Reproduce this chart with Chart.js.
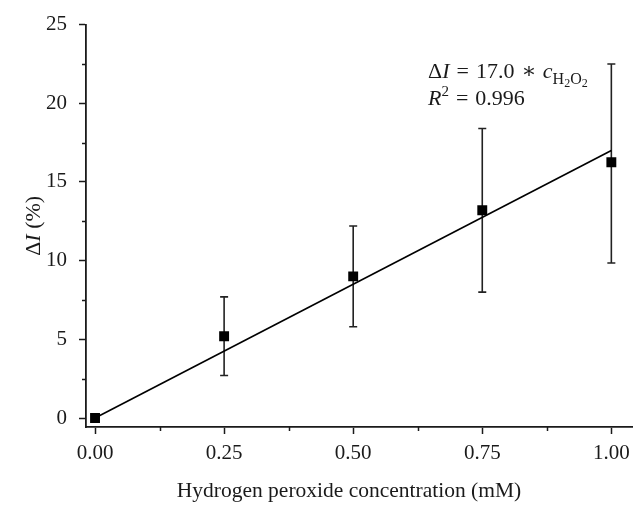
<!DOCTYPE html>
<html>
<head>
<meta charset="utf-8">
<script src="https://cdn.jsdelivr.net/npm/chart.js@4/dist/chart.umd.min.js"></script>
<style>
  html, body { margin: 0; padding: 0; background: #fff; }
  #wrap { width: 644px; height: 512px; position: relative; }
</style>
</head>
<body>
<div id="wrap"><canvas id="c" width="644" height="512"></canvas></div>
<script>
// ---- data ----
const concentrations = [0, 0.25, 0.5, 0.75, 1.0];          // mM
const deltaI = [0, 5.2, 9.0, 13.2, 16.25];                // %
const errLower = [0, 2.7, 5.8, 8.0, 9.85];                // lower end of error bar
const errUpper = [0, 7.7, 12.2, 18.4, 22.5];              // upper end of error bar
const fitX = [0, 1.0];
const fitY = [0, 17.0];
const xTicks = [0, 0.25, 0.5, 0.75, 1.0];
const xMinorTicks = [0.125, 0.375, 0.625, 0.875];
const yTicks = [0, 5, 10, 15, 20, 25];
const yMinorTicks = [2.5, 7.5, 12.5, 17.5, 22.5];
const xTitle = 'Hydrogen peroxide concentration (mM)';
const eqSlope = '17.0';
const eqR2 = '0.996';

const SERIF = '"Liberation Serif", "DejaVu Serif", serif';
const INK = '#1a1a1a';

const extrasPlugin = {
  id: 'extras',
  beforeDatasetsDraw(chart) {
    const ctx = chart.ctx, xs = chart.scales.x, ys = chart.scales.y;
    ctx.save();
    ctx.strokeStyle = '#222';
    ctx.lineWidth = 1.6;
    for (let i = 0; i < concentrations.length; i++) {
      if (errUpper[i] === errLower[i]) continue;
      const px = xs.getPixelForValue(concentrations[i]);
      const pt = ys.getPixelForValue(errUpper[i]);
      const pb = ys.getPixelForValue(errLower[i]);
      ctx.beginPath();
      ctx.moveTo(px, pt); ctx.lineTo(px, pb);
      ctx.moveTo(px - 4, pt); ctx.lineTo(px + 4, pt);
      ctx.moveTo(px - 4, pb); ctx.lineTo(px + 4, pb);
      ctx.stroke();
    }
    ctx.restore();
  },
  afterDraw(chart) {
    const ctx = chart.ctx, xs = chart.scales.x, ys = chart.scales.y;
    const area = chart.chartArea;
    ctx.save();
    // minor ticks
    ctx.strokeStyle = INK;
    ctx.lineWidth = 1.5;
    ctx.beginPath();
    yMinorTicks.forEach(v => {
      const p = Math.round(ys.getPixelForValue(v)) + 0.5;
      ctx.moveTo(area.left, p); ctx.lineTo(area.left - 4, p);
    });
    xMinorTicks.forEach(v => {
      const p = Math.round(xs.getPixelForValue(v)) + 0.5;
      ctx.moveTo(p, area.bottom); ctx.lineTo(p, area.bottom + 4);
    });
    ctx.stroke();

    ctx.fillStyle = INK;
    ctx.textBaseline = 'alphabetic';
    // x title
    ctx.font = '21.5px ' + SERIF;
    ctx.textAlign = 'center';
    ctx.fillText(xTitle, 349, 497);

    // y title: ΔI (%) with italic I, rotated
    ctx.save();
    ctx.translate(40, (area.top + area.bottom) / 2);
    ctx.rotate(-Math.PI / 2);
    ctx.textAlign = 'left';
    const parts = [['Δ', '22px '], ['I', 'italic 22px '], [' (%)', '22px ']];
    let total = 0;
    parts.forEach(p => { ctx.font = p[1] + SERIF; total += ctx.measureText(p[0]).width; });
    let cx = -total / 2;
    parts.forEach(p => { ctx.font = p[1] + SERIF; ctx.fillText(p[0], cx, 0); cx += ctx.measureText(p[0]).width; });
    ctx.restore();

    // equation annotation: [text, font, dy, extra gap after]
    ctx.textAlign = 'left';
    let x = 428, y = 78;
    const eq = [['Δ', '22px ', 0, 0], ['I', 'italic 22px ', 0, 0], [' = ', '22px ', 0, 0],
                [eqSlope, '22px ', 0, 0], [' ∗ ', '22px ', 0, 1],
                ['c', 'italic 22px ', 0, 0], ['H', '16px ', 6, 0], ['2', '12px ', 9, 0], ['O', '16px ', 6, 0], ['2', '12px ', 9, 0]];
    const gapEq = 1.5;
    eq.forEach((p, i) => {
      ctx.font = p[1] + SERIF;
      if (i === 2 || i === 3 || i === 4) x += gapEq;
      ctx.fillText(p[0], x, y + p[2]);
      x += ctx.measureText(p[0]).width + p[3];
    });
    x = 428; y = 105;
    const r2 = [['R', 'italic 22px ', 0], ['2', '15px ', -9], [' = ', '22px ', 0], [eqR2, '22px ', 0]];
    r2.forEach((p, i) => {
      ctx.font = p[1] + SERIF;
      if (i >= 2) x += gapEq;
      ctx.fillText(p[0], x, y + p[2]);
      x += ctx.measureText(p[0]).width;
    });
    ctx.restore();
  }
};

new Chart(document.getElementById('c'), {
  type: 'scatter',
  data: {
    datasets: [
      {
        type: 'line',
        label: 'fit',
        data: fitX.map((v, i) => ({ x: v, y: fitY[i] })),
        borderColor: '#000',
        borderWidth: 1.6,
        pointRadius: 0,
        fill: false,
        order: 2
      },
      {
        label: 'ΔI',
        data: concentrations.map((v, i) => ({ x: v, y: deltaI[i] })),
        pointStyle: 'rect',
        pointRadius: 7,
        pointHoverRadius: 7,
        backgroundColor: '#000',
        borderColor: '#000',
        borderWidth: 0,
        order: 1
      }
    ]
  },
  options: {
    responsive: false,
    animation: false,
    devicePixelRatio: 1,
    layout: { padding: { top: 22, right: 12, left: 0, bottom: 0 } },
    plugins: { legend: { display: false }, tooltip: { enabled: false } },
    scales: {
      x: {
        type: 'linear',
        min: -0.0175,
        max: 1.04,
        afterFit(scale) { scale.height = 85; },
        afterBuildTicks(scale) { scale.ticks = xTicks.map(v => ({ value: v })); },
        ticks: {
          callback: v => Number(v).toFixed(2),
          font: { family: SERIF, size: 21 },
          color: INK,
          padding: 7,
          maxRotation: 0,
          autoSkip: false
        },
        grid: { display: true, drawOnChartArea: false, drawTicks: true, tickLength: 7, tickWidth: 1.5, tickColor: INK },
        border: { display: true, color: INK, width: 1.8 }
      },
      y: {
        type: 'linear',
        min: -0.57,
        max: 25,
        afterFit(scale) { scale.width = 86; },
        afterBuildTicks(scale) { scale.ticks = yTicks.map(v => ({ value: v })); },
        ticks: {
          callback: v => String(v),
          font: { family: SERIF, size: 21 },
          color: INK,
          padding: 12,
          autoSkip: false
        },
        grid: { display: true, drawOnChartArea: false, drawTicks: true, tickLength: 7, tickWidth: 1.5, tickColor: INK },
        border: { display: true, color: INK, width: 1.8 }
      }
    }
  },
  plugins: [extrasPlugin]
});
</script>
</body>
</html>
